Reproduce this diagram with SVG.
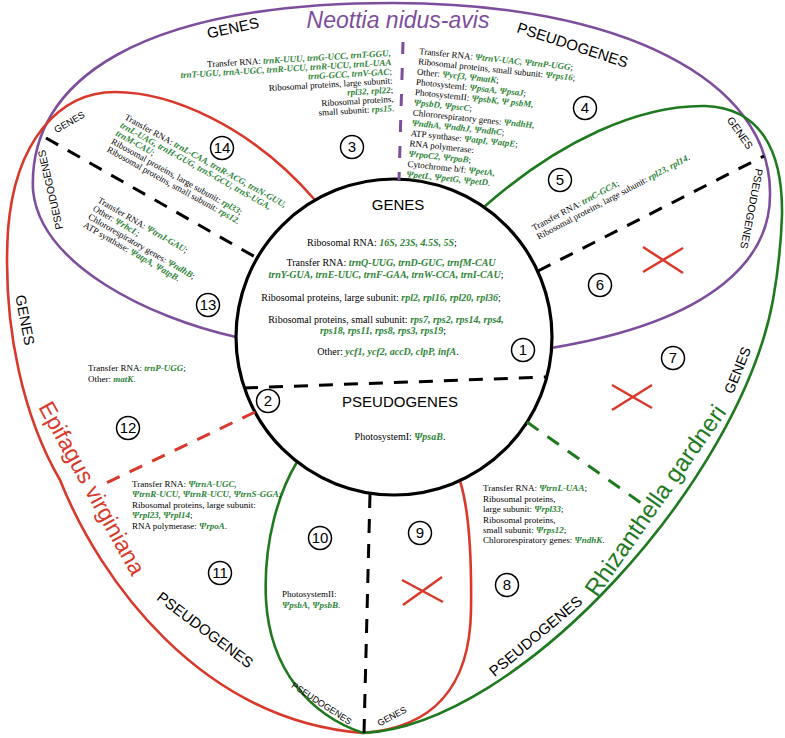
<svg xmlns="http://www.w3.org/2000/svg" width="785" height="738" viewBox="0 0 785 738">
<style>
.pl{fill:none;stroke:#7D4E9C;stroke-width:2.6}
.rd{fill:none;stroke:#D8392B;stroke-width:2.6}
.gr{fill:none;stroke:#1F7A1F;stroke-width:2.6}
.ctr{fill:#fff;stroke:#000;stroke-width:3.2}
.dk{fill:none;stroke:#000;stroke-width:3;stroke-dasharray:14 11}
.dp{fill:none;stroke:#7D4E9C;stroke-width:3;stroke-dasharray:12 14}
.dr{fill:none;stroke:#D8392B;stroke-width:3;stroke-dasharray:14 11}
.dg{fill:none;stroke:#1F7A1F;stroke-width:3;stroke-dasharray:14 11}
.x{fill:none;stroke:#D8392B;stroke-width:2.5}
.t{font-family:"Liberation Serif","Times New Roman",serif;font-size:9px;fill:#000}
.tc{font-family:"Liberation Serif","Times New Roman",serif;font-size:10px;fill:#000;text-anchor:middle}
.g{font-style:italic;font-weight:bold;fill:#2E8538}
.h{font-family:"Liberation Sans",Arial,sans-serif;fill:#000;text-anchor:middle}
.sp{font-family:"Liberation Sans",Arial,sans-serif;text-anchor:middle}
.n circle{fill:#fff;stroke:#000;stroke-width:1.5}
.n text{font-family:"Liberation Sans",Arial,sans-serif;font-size:15px;text-anchor:middle;fill:#000}
</style>
<rect width="785" height="738" fill="#fff"/>
<g id="outlines">
<path id="neottia-outline" class="pl" d="M33,190 C28,80 140,3 393,3 C620,3 772,80 770,195 C770,255 720,320 551,348 C450,368 330,368 236,337 C150,318 40,265 33,190 Z"/>
<path id="epifagus-outline" class="rd" d="M315,200 C250,125 170,92 115,92 C60,92 15,140 8,230 C2,330 25,420 60,480 C100,580 200,720 363,733 C430,728 470,690 471,610 C472,540 466,500 460,481"/>
<path id="rhizanthella-outline" class="gr" d="M484,207 C560,140 640,105 705,106 C760,108 783,150 782,215 C781,245 778,272 773,300 C740,480 520,725 363,733 C310,715 270,670 266,600 C263,540 280,490 297,462"/>
</g>
<circle id="core" class="ctr" cx="394" cy="337" r="158"/>
<g id="connectors">
<line class="dk" x1="244" y1="388" x2="547" y2="377"/>
<line class="dp" x1="403" y1="42" x2="399" y2="180"/>
<line class="dk" x1="538" y1="271" x2="764" y2="156"/>
<line class="dk" x1="46" y1="138" x2="257" y2="258"/>
<line class="dr" x1="255" y1="412" x2="100" y2="486"/>
<line class="dg" x1="527" y1="422" x2="641" y2="503"/>
<line class="dk" x1="370" y1="494" x2="364" y2="733"/>
</g>
<g id="species">
<text class="sp" x="398" y="28" font-size="23" font-style="italic" fill="#7D4E9C">Neottia nidus-avis</text>
<text class="sp" font-size="23" fill="#D8392B" transform="translate(85,492) rotate(61)">Epifagus virginiana</text>
<text class="sp" font-size="24" fill="#1F7A1F" transform="translate(662,505) rotate(-55)">Rhizanthella gardneri</text>
</g>
<g id="r1">
<text class="h" x="398" y="210" font-size="15">GENES</text>
<text class="tc" x="382" y="246">Ribosomal RNA: <tspan class="g">16S, 23S, 4.5S, 5S</tspan>;</text>
<text class="tc" x="391" y="266">Transfer RNA: <tspan class="g">trnQ-UUG, trnD-GUC, trnfM-CAU</tspan></text>
<text class="tc" x="386" y="278"><tspan class="g">trnY-GUA, trnE-UUC, trnF-GAA, trnW-CCA, trnI-CAU</tspan>;</text>
<text class="tc" x="381" y="301">Ribosomal proteins, large subunit: <tspan class="g">rpl2, rpl16, rpl20,  rpl36</tspan>;</text>
<text class="tc" x="386" y="323">Ribosomal proteins, small subunit: <tspan class="g">rps7, rps2, rps14, rps4,</tspan></text>
<text class="tc" x="383" y="334"><tspan class="g">rps18, rps11, rps8, rps3, rps19</tspan>;</text>
<text class="tc" x="388" y="355">Other: <tspan class="g">ycf1, ycf2, accD, clpP, infA</tspan>.</text>
<g class="n"><circle cx="523" cy="350" r="11.5"/><text x="523" y="355.4">1</text></g>
</g>
<g id="r2">
<text class="h" x="400" y="407" font-size="15">PSEUDOGENES</text>
<text class="tc" x="400" y="440">PhotosystemI: <tspan class="g">ΨpsaB</tspan>.</text>
<g class="n"><circle cx="268" cy="401" r="11.5"/><text x="268" y="406.4">2</text></g>
</g>
<g id="r3">
<text class="h" font-size="15" transform="translate(234,33) rotate(-12)">GENES</text>
<g class="t" text-anchor="end" transform="translate(391,56) rotate(-3.5)">
<text y="0">Transfer RNA: <tspan class="g">trnK-UUU, trnG-UCC,  trnT-GGU,</tspan></text>
<text y="9.2"><tspan class="g">trnT-UGU, trnA-UGC, trnR-UCU, trnR-UCU,  trnL-UAA</tspan></text>
<text y="18.4"><tspan class="g">trnG-GCC, trnV-GAC</tspan>;</text>
<text y="27.6">Ribosomal proteins, large subunit:</text>
<text y="36.8"><tspan class="g">rpl32, rpl22</tspan>;</text>
<text y="46">Ribosomal proteins,</text>
<text y="55.2">small subunit: <tspan class="g">rps15</tspan>.</text>
</g>
<g class="n"><circle cx="352" cy="147" r="11.5"/><text x="352" y="152.4">3</text></g>
</g>
<g id="r4">
<text class="h" font-size="15" transform="translate(571,50) rotate(18)">PSEUDOGENES</text>
<g class="t" transform="translate(419,54) rotate(6)">
<text y="0">Transfer RNA: <tspan class="g">ΨtrnV-UAC, ΨtrnP-UGG</tspan>;</text>
<text y="10.3">Ribosomal proteins, small subunit: <tspan class="g">Ψrps16</tspan>;</text>
<text y="20.6">Other: <tspan class="g">Ψycf3, ΨmatK</tspan>;</text>
<text y="30.9">PhotosystemI: <tspan class="g">ΨpsaA,  ΨpsaJ</tspan>;</text>
<text y="41.2">PhotosystemII: <tspan class="g">ΨpsbK, Ψ psbM,</tspan></text>
<text y="51.5"><tspan class="g">ΨpsbD, ΨpscC</tspan>;</text>
<text y="61.8">Chlororespiratory genes: <tspan class="g">ΨndhH,</tspan></text>
<text y="72.1"><tspan class="g">ΨndhA, ΨndhJ, ΨndhC</tspan>;</text>
<text y="82.4">ATP synthase: <tspan class="g">ΨatpI, ΨatpE</tspan>;</text>
<text y="92.7">RNA polymerase:</text>
<text y="103"><tspan class="g">ΨrpoC2, ΨrpoB</tspan>;</text>
<text y="113.3">Cytochrome b/f: <tspan class="g">ΨpetA,</tspan></text>
<text y="123.6"><tspan class="g">ΨpetL, ΨpetG, ΨpetD</tspan>.</text>
</g>
<g class="n"><circle cx="585" cy="108" r="11.5"/><text x="585" y="113.4">4</text></g>
</g>
<g id="r5">
<text class="h" font-size="10.5" transform="translate(737,135) rotate(55)">GENES</text>
<g class="t" transform="translate(534,231) rotate(-28)">
<text y="0">Transfer RNA: <tspan class="g">trnC-GCA</tspan>;</text>
<text y="10">Ribosomal proteins, large subunit: <tspan class="g">rpl23, rpl14</tspan>.</text>
</g>
<g class="n"><circle cx="560" cy="180" r="11.5"/><text x="560" y="185.4">5</text></g>
</g>
<g id="r6">
<text class="h" font-size="10.5" transform="translate(748,208) rotate(101)">PSEUDOGENES</text>
<path class="x" d="M643,247 L683,273 M643,272 L683,248"/>
<g class="n"><circle cx="600" cy="285" r="11.5"/><text x="600" y="290.4">6</text></g>
</g>
<g id="r7">
<text class="h" font-size="14" transform="translate(742,372) rotate(-68)">GENES</text>
<path class="x" d="M612,385 L652,408 M612,410 L652,385"/>
<g class="n"><circle cx="673" cy="358" r="11.5"/><text x="673" y="363.4">7</text></g>
</g>
<g id="r8">
<g class="t">
<text x="483" y="491">Transfer RNA: <tspan class="g">ΨtrnL-UAA</tspan>;</text>
<text x="483" y="501.5">Ribosomal proteins,</text>
<text x="483" y="512">large subunit: <tspan class="g">Ψrpl33</tspan>;</text>
<text x="483" y="522.5">Ribosomal proteins,</text>
<text x="483" y="533">small subunit: <tspan class="g">Ψrps12</tspan>;</text>
<text x="483" y="543">Chlororespiratory genes: <tspan class="g">ΨndhK</tspan>.</text>
</g>
<text class="h" font-size="15" transform="translate(539,640) rotate(-40)">PSEUDOGENES</text>
<g class="n"><circle cx="507" cy="585" r="11.5"/><text x="507" y="590.4">8</text></g>
</g>
<g id="r9">
<text class="h" font-size="9" transform="translate(393.5,719) rotate(-28)">GENES</text>
<path class="x" d="M402,580 L443,602 M403,605 L442,577"/>
<g class="n"><circle cx="420" cy="533" r="11.5"/><text x="420" y="538.4">9</text></g>
</g>
<g id="r10">
<text class="h" font-size="9" transform="translate(320,706) rotate(33)">PSEUDOGENES</text>
<g class="t">
<text x="282" y="596.5">PhotosystemII:</text>
<text x="282" y="607.5"><tspan class="g">ΨpsbA, ΨpsbB</tspan>.</text>
</g>
<g class="n"><circle cx="320" cy="538" r="11.5"/><text x="320" y="543.4">10</text></g>
</g>
<g id="r11">
<g class="t">
<text x="132" y="486.5">Transfer RNA: <tspan class="g">ΨtrnA-UGC,</tspan></text>
<text x="132" y="497"><tspan class="g">ΨtrnR-UCU, ΨtrnR-UCU, ΨtrnS-GGA</tspan>;</text>
<text x="132" y="507.5">Ribosomal proteins, large subunit:</text>
<text x="132" y="518"><tspan class="g">Ψrpl23, Ψrpl14</tspan>;</text>
<text x="132" y="528.5">RNA polymerase: <tspan class="g">ΨrpoA</tspan>.</text>
</g>
<text class="h" font-size="15" transform="translate(202,634) rotate(37)">PSEUDOGENES</text>
<g class="n"><circle cx="220" cy="573" r="11.5"/><text x="220" y="578.4">11</text></g>
</g>
<g id="r12">
<text class="h" font-size="14.5" transform="translate(20,321) rotate(79)">GENES</text>
<g class="t">
<text x="88" y="371">Transfer RNA: <tspan class="g">trnP-UGG</tspan>;</text>
<text x="88" y="381.5">Other: <tspan class="g">matK</tspan>.</text>
</g>
<g class="n"><circle cx="128" cy="428" r="11.5"/><text x="128" y="433.4">12</text></g>
</g>
<g id="r13">
<text class="h" font-size="10.5" transform="translate(54,189) rotate(-103)">PSEUDOGENES</text>
<g class="t" transform="translate(97,202) rotate(30)">
<text y="0">Transfer RNA: <tspan class="g">ΨtrnI-GAU</tspan>;</text>
<text y="9.5">Other: <tspan class="g">ΨrbcL</tspan>;</text>
<text y="19">Chlororespiratory genes: <tspan class="g">ΨndhB</tspan>;</text>
<text y="28.5">ATP synthase: <tspan class="g">ΨatpA, ΨatpB</tspan>.</text>
</g>
<g class="n"><circle cx="208" cy="305" r="11.5"/><text x="208" y="310.4">13</text></g>
</g>
<g id="r14">
<text class="h" font-size="9.5" transform="translate(71,125) rotate(-30)">GENES</text>
<g class="t" transform="translate(124,119) rotate(29)">
<text y="0">Transfer RNA: <tspan class="g">trnL-CAA, trnR-ACG, trnN-GUU,</tspan></text>
<text y="9.2"><tspan class="g">trnL-UAG, trnH-GUG, trnS-GCU, trnS-UGA,</tspan></text>
<text y="18.4"><tspan class="g">trnM-CAU</tspan>;</text>
<text y="27.6">Ribosomal proteins, large subunit: <tspan class="g">rpl33</tspan>;</text>
<text y="36.8">Ribosomal proteins, small subunit: <tspan class="g">rps12</tspan>.</text>
</g>
<g class="n"><circle cx="222" cy="148" r="11.5"/><text x="222" y="153.4">14</text></g>
</g>
</svg>
